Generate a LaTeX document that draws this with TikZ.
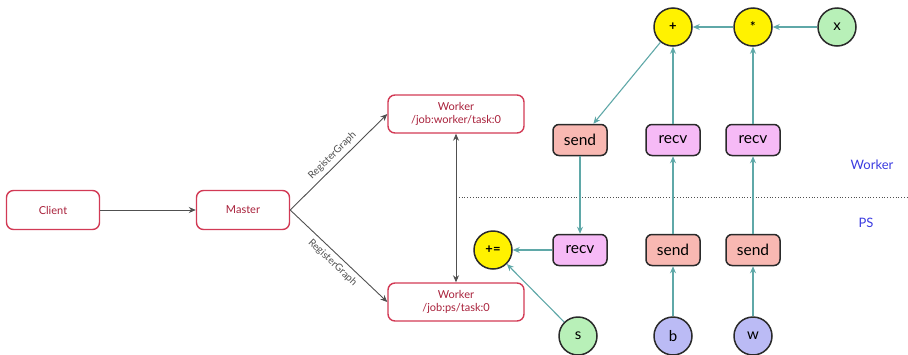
\documentclass[tikz,border=0pt]{standalone}
\usepackage{fontspec}
\setmainfont{Lato}
\usetikzlibrary{arrows.meta}
\definecolor{boxred}{HTML}{D23A55}
\definecolor{txtred}{HTML}{A8203A}
\definecolor{flowgray}{HTML}{505050}
\definecolor{teal}{HTML}{5FA8A8}
\definecolor{opyellow}{HTML}{FFF200}
\definecolor{vargreen}{HTML}{B8F0B8}
\definecolor{varblue}{HTML}{BBBBF5}
\definecolor{sendfill}{HTML}{F8B8B2}
\definecolor{recvfill}{HTML}{F6BAF6}
\definecolor{edgedark}{HTML}{2A2A2A}
\definecolor{zoneblue}{HTML}{3A3AE0}
\tikzset{
  taskbox/.style={draw=boxred, line width=1.4pt, rounded corners=7pt, text=txtred,
    minimum width=93pt, minimum height=39pt, font=\fontsize{11}{13}\selectfont, align=center, inner sep=0pt},
  wbox/.style={taskbox, minimum width=136pt, minimum height=38pt},
  opnode/.style={circle, draw=edgedark, line width=1.5pt, fill=opyellow, minimum size=38pt,
    inner sep=0pt, font=\fontsize{13}{13}\selectfont\bfseries},
  varnode/.style={opnode, font=\fontsize{15}{15}\selectfont},
  commbox/.style={draw=edgedark, line width=1.5pt, rounded corners=6pt, minimum width=54pt,
    minimum height=31pt, inner sep=0pt, font=\fontsize{15.5}{15.5}\selectfont},
  sendbox/.style={commbox, fill=sendfill},
  recvbox/.style={commbox, fill=recvfill},
  flow/.style={draw=flowgray, line width=0.9pt, -{Stealth[length=7pt,width=6pt]}},
  dataflow/.style={draw=teal, line width=1.1pt, -{Stealth[length=7pt,width=6pt]}},
  reglabel/.style={text=flowgray, font=\fontsize{10}{12}\selectfont, sloped, inner sep=4pt},
  zone/.style={text=zoneblue, font=\fontsize{13}{15}\selectfont}
}
\begin{document}
\begin{tikzpicture}[x=1pt, y=-1pt]
\useasboundingbox (0,0) rectangle (908,354);

% control plane
\node[taskbox] (client) at (53,210) {Client};
\node[taskbox] (master) at (243,210) {Master};
\node[wbox] (wtask) at (456,114) {Worker\\/job:worker/task:0};
\node[wbox] (pstask) at (456,302) {Worker\\/job:ps/task:0};

\draw[flow] (client) -- (master);
\draw[flow] (master.east) -- node[reglabel, above] {RegisterGraph} (wtask.west);
\draw[flow] (master.east) -- node[reglabel, below] {RegisterGraph} (pstask.west);
\draw[flow, {Stealth[length=7pt,width=6pt]}-{Stealth[length=7pt,width=6pt]}] (wtask) -- (pstask);

% partition boundary
\coordinate (sepL) at (456,197);
\coordinate (sepR) at (908,197);
\draw[flowgray, line width=0.8pt, dotted] (sepL) -- (sepR);
\node[zone] (wlabel) at (872,165) {Worker};
\node[zone] (pslabel) at (866,223) {PS};

% worker subgraph
\node[opnode] (add) at (673,27) {+};
\node[opnode] (mul) at (753,27) {*};
\node[varnode, fill=vargreen] (x) at (837,27) {x};
\node[sendbox] (wsend) at (580,140) {send};
\node[recvbox] (wrecvb) at (673,140) {recv};
\node[recvbox] (wrecvw) at (753,140) {recv};

% ps subgraph
\node[opnode] (upd) at (493,250) {+=};
\node[recvbox] (psrecv) at (580,250) {recv};
\node[sendbox] (pssendb) at (673,250) {send};
\node[sendbox] (pssendw) at (753,250) {send};
\node[varnode, fill=vargreen] (s) at (578,336) {s};
\node[varnode, fill=varblue] (b) at (673,336) {b};
\node[varnode, fill=varblue] (w) at (753,336) {w};

\draw[dataflow] (x) -- (mul);
\draw[dataflow] (mul) -- (add);
\draw[dataflow] (add) -- (wsend);
\draw[dataflow] (wrecvb) -- (add);
\draw[dataflow] (wrecvw) -- (mul);
\draw[dataflow] (wsend) -- (psrecv);
\draw[dataflow] (pssendb) -- (wrecvb);
\draw[dataflow] (pssendw) -- (wrecvw);
\draw[dataflow] (psrecv) -- (upd);
\draw[dataflow] (s) -- (upd);
\draw[dataflow] (b) -- (pssendb);
\draw[dataflow] (w) -- (pssendw);
\end{tikzpicture}
\end{document}
